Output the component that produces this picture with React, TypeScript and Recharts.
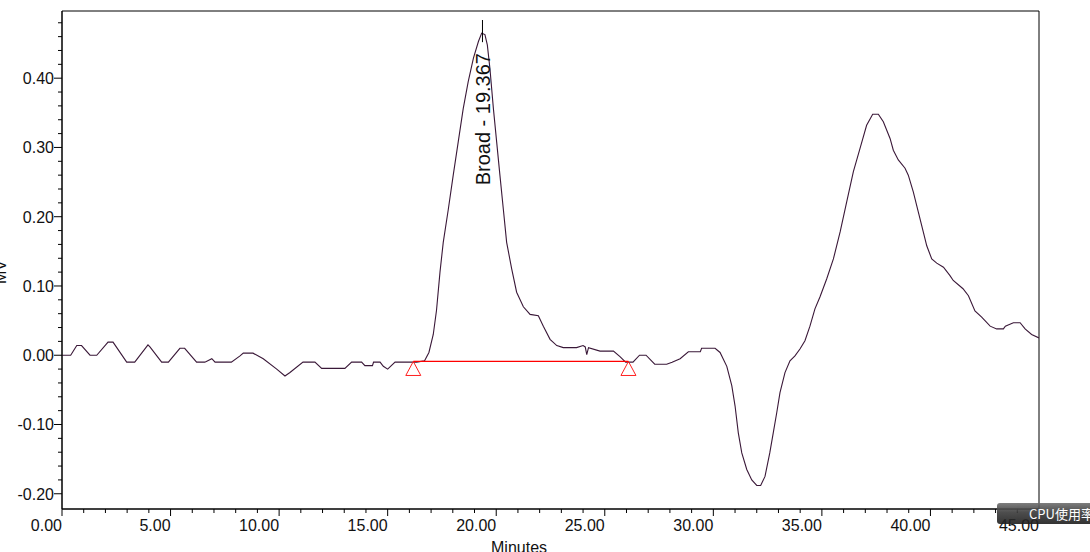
import React from 'react';
import {
  LineChart,
  Line,
  XAxis,
  YAxis,
  ReferenceLine,
  ReferenceDot,
  ReferenceArea,
} from 'recharts';

// chromatogram trace: [minutes, MV]
const trace: [number, number][] = [
  [0.0, 0.0], [0.4, 0.0], [0.68, 0.014], [0.9, 0.014], [1.29, 0.0], [1.6, 0.0],
  [2.12, 0.019], [2.35, 0.019], [2.98, -0.01], [3.35, -0.01], [3.96, 0.015], [4.05, 0.012],
  [4.59, -0.01], [4.9, -0.01], [5.43, 0.01], [5.65, 0.01], [6.2, -0.01], [6.58, -0.01],
  [6.9, -0.005], [7.05, -0.01], [7.8, -0.01], [8.2, -0.001], [8.35, 0.003], [8.8, 0.003],
  [9.27, -0.005], [9.89, -0.02], [10.27, -0.03], [10.5, -0.025], [11.1, -0.01], [11.65, -0.01],
  [11.96, -0.019], [13.03, -0.019], [13.34, -0.01], [13.8, -0.01], [13.95, -0.015], [14.3, -0.015],
  [14.35, -0.01], [14.65, -0.01], [14.8, -0.016], [15.0, -0.02], [15.34, -0.01], [16.34, -0.01],
  [16.7, -0.008], [16.9, 0.004], [17.1, 0.03], [17.25, 0.065], [17.41, 0.12], [17.56, 0.163],
  [17.79, 0.21], [18.02, 0.26], [18.25, 0.308], [18.48, 0.356], [18.71, 0.395], [18.95, 0.429],
  [19.18, 0.453], [19.33, 0.465], [19.48, 0.463], [19.59, 0.448], [19.71, 0.414], [19.87, 0.356],
  [20.02, 0.308], [20.17, 0.26], [20.33, 0.21], [20.48, 0.163], [20.71, 0.125], [20.94, 0.091],
  [21.25, 0.07], [21.56, 0.059], [21.94, 0.057], [22.17, 0.042], [22.48, 0.023], [22.79, 0.014],
  [23.09, 0.011], [23.7, 0.011], [24.0, 0.014], [24.1, 0.012], [24.17, 0.001], [24.25, 0.011],
  [24.78, 0.006], [25.4, 0.006], [25.7, -0.002], [25.96, -0.01], [26.3, -0.01], [26.6, 0.0],
  [26.9, 0.0], [27.3, -0.013], [27.85, -0.013], [28.1, -0.01], [28.47, -0.005], [28.85, 0.005],
  [29.4, 0.005], [29.46, 0.01], [30.08, 0.01], [30.31, 0.004], [30.62, -0.016], [30.85, -0.044],
  [31.0, -0.073], [31.15, -0.112], [31.31, -0.141], [31.54, -0.165], [31.77, -0.18], [32.0, -0.188],
  [32.18, -0.188], [32.38, -0.175], [32.6, -0.141], [32.76, -0.112], [32.92, -0.083], [33.07, -0.054],
  [33.3, -0.025], [33.53, -0.008], [33.76, -0.001], [33.99, 0.009], [34.22, 0.021], [34.45, 0.042],
  [34.68, 0.067], [34.91, 0.084], [35.22, 0.11], [35.53, 0.139], [35.84, 0.178], [36.14, 0.221],
  [36.45, 0.265], [36.76, 0.299], [37.06, 0.332], [37.34, 0.348], [37.6, 0.348], [37.83, 0.337],
  [38.14, 0.313], [38.29, 0.296], [38.52, 0.282], [38.83, 0.27], [38.98, 0.26], [39.21, 0.236],
  [39.44, 0.207], [39.67, 0.178], [39.83, 0.158], [40.06, 0.139], [40.29, 0.133], [40.6, 0.127],
  [40.9, 0.115], [41.05, 0.108], [41.5, 0.096], [41.75, 0.086], [42.05, 0.064], [42.36, 0.055],
  [42.75, 0.042], [43.05, 0.038], [43.36, 0.038], [43.45, 0.042], [43.82, 0.047], [44.13, 0.047],
  [44.36, 0.038], [44.66, 0.03], [45.0, 0.025],
];

const xTicks = [
  0, 1, 2, 3, 4, 5, 6, 7, 8, 9, 10, 11, 12, 13, 14, 15, 16, 17, 18, 19, 20, 21, 22,
  23, 24, 25, 26, 27, 28, 29, 30, 31, 32, 33, 34, 35, 36, 37, 38, 39, 40, 41, 42, 43, 44, 45,
];
const yTicks = [
  -0.2, -0.18, -0.16, -0.14, -0.12, -0.1, -0.08, -0.06, -0.04, -0.02, 0,
  0.02, 0.04, 0.06, 0.08, 0.1, 0.12, 0.14, 0.16, 0.18, 0.2, 0.22, 0.24, 0.26,
  0.28, 0.3, 0.32, 0.34, 0.36, 0.38, 0.4, 0.42, 0.44, 0.46, 0.48,
];

// integrated peak: name, retention time, baseline start/end
const peakName = 'Broad';
const peakTime = 19.367;
const peakMarker = [0.484, 0.452];
const baselineStart = [16.18, -0.009];
const baselineEnd = [26.09, -0.009];

const X_DOMAIN: [number, number] = [0, 45];
const Y_DOMAIN: [number, number] = [-0.222, 0.497];

const FONT = 'Arial, "Liberation Sans", sans-serif';
const data = trace.map(([t, mv]) => ({ t, mv }));
const baselineData = [baselineStart, baselineEnd].map(([t, base]) => ({ t, base }));

const isMajorX = (v: number) => v % 5 === 0;
const isMajorY = (v: number) => Math.abs(v * 10 - Math.round(v * 10)) < 1e-6;

const XTick = (props: any) => {
  const { x, y, payload } = props;
  const major = isMajorX(payload.value);
  return (
    <g>
      <line x1={x} x2={x} y1={y} y2={y + (major ? 7 : 4)} stroke="#000" />
      {major && (
        <text x={x} y={y + 22} textAnchor="end" fontSize={16} fontFamily={FONT} fill="#111">
          {payload.value.toFixed(2)}
        </text>
      )}
    </g>
  );
};

const YTick = (props: any) => {
  const { x, y, payload } = props;
  const major = isMajorY(payload.value);
  return (
    <g>
      <line x1={x - (major ? 8 : 4)} x2={x} y1={y} y2={y} stroke="#000" />
      {major && (
        <text x={x - 8} y={y + 6} textAnchor="end" fontSize={16} fontFamily={FONT} fill="#111">
          {payload.value.toFixed(2)}
        </text>
      )}
    </g>
  );
};

const PeakLabel = (props: any) => {
  const { cx, cy } = props;
  return (
    <text
      transform={`translate(${cx + 8},${cy + 86}) rotate(-90)`}
      textAnchor="middle"
      fontSize={20}
      fontFamily={FONT}
      fill="#111"
    >
      {`${peakName} - ${peakTime.toFixed(3)}`}
    </text>
  );
};

const Triangle = (props: any) => {
  const { cx, cy } = props;
  return (
    <polygon
      points={`${cx},${cy} ${cx - 7.5},${cy + 14} ${cx + 7.5},${cy + 14}`}
      fill="none"
      stroke="#ff2020"
      strokeWidth={1}
    />
  );
};

export default function App() {
  return (
    <div style={{ position: 'absolute', left: 0, top: 0, width: 1090, height: 552, background: '#fff', overflow: 'hidden' }}>
      <LineChart
        width={1090}
        height={552}
        data={data}
        margin={{ top: 11, right: 51, left: 0, bottom: 0 }}
      >
        <XAxis
          dataKey="t"
          type="number"
          domain={X_DOMAIN}
          ticks={xTicks}
          interval={0}
          allowDataOverflow
          height={43}
          tickSize={0}
          tickMargin={0}
          tickLine={false}
          axisLine={{ stroke: '#000' }}
          tick={<XTick />}
          label={{
            content: () => (
              <text x={491} y={553} fontSize={16} fontFamily={FONT} fill="#111">
                Minutes
              </text>
            ),
          }}
        />
        <YAxis
          type="number"
          domain={Y_DOMAIN}
          ticks={yTicks}
          interval={0}
          allowDataOverflow
          width={62}
          tickSize={0}
          tickMargin={0}
          tickLine={false}
          axisLine={{ stroke: '#000' }}
          tick={<YTick />}
          label={{
            content: () => (
              <text transform="translate(6,272) rotate(-90)" textAnchor="middle" fontSize={16} fontFamily={FONT} fill="#111">
                MV
              </text>
            ),
          }}
        />
        <ReferenceArea
          x1={X_DOMAIN[0]}
          x2={X_DOMAIN[1]}
          y1={Y_DOMAIN[0]}
          y2={Y_DOMAIN[1]}
          fill="none"
          stroke="#000"
          strokeWidth={1}
        />
        <Line
          dataKey="mv"
          type="linear"
          dot={false}
          stroke="#3a1838"
          strokeWidth={1.1}
          isAnimationActive={false}
        />
        <Line
          data={baselineData}
          dataKey="base"
          type="linear"
          dot={false}
          stroke="#ff0000"
          strokeWidth={1.3}
          isAnimationActive={false}
        />
        <ReferenceLine
          segment={[
            { x: peakTime, y: peakMarker[0] },
            { x: peakTime, y: peakMarker[1] },
          ]}
          stroke="#000"
          strokeWidth={1}
        />
        <ReferenceDot x={peakTime} y={0.465} r={0} shape={<PeakLabel />} />
        <ReferenceDot x={baselineStart[0]} y={baselineStart[1]} r={0} shape={<Triangle />} />
        <ReferenceDot x={baselineEnd[0]} y={baselineEnd[1]} r={0} shape={<Triangle />} />
      </LineChart>
      <div
        style={{
          position: 'absolute',
          left: 997,
          top: 503,
          width: 93,
          height: 21,
          borderRadius: '3px 0 0 3px',
          background: 'linear-gradient(#707070, #3a3a3a 45%, #1e1e1e)',
          opacity: 0.9,
          color: '#fff',
          fontSize: 13,
          lineHeight: '21px',
          fontFamily: '"Noto Sans CJK SC", sans-serif',
          paddingLeft: 32,
          boxSizing: 'border-box',
          whiteSpace: 'nowrap',
        }}
      >
        CPU使用率
      </div>
    </div>
  );
}
